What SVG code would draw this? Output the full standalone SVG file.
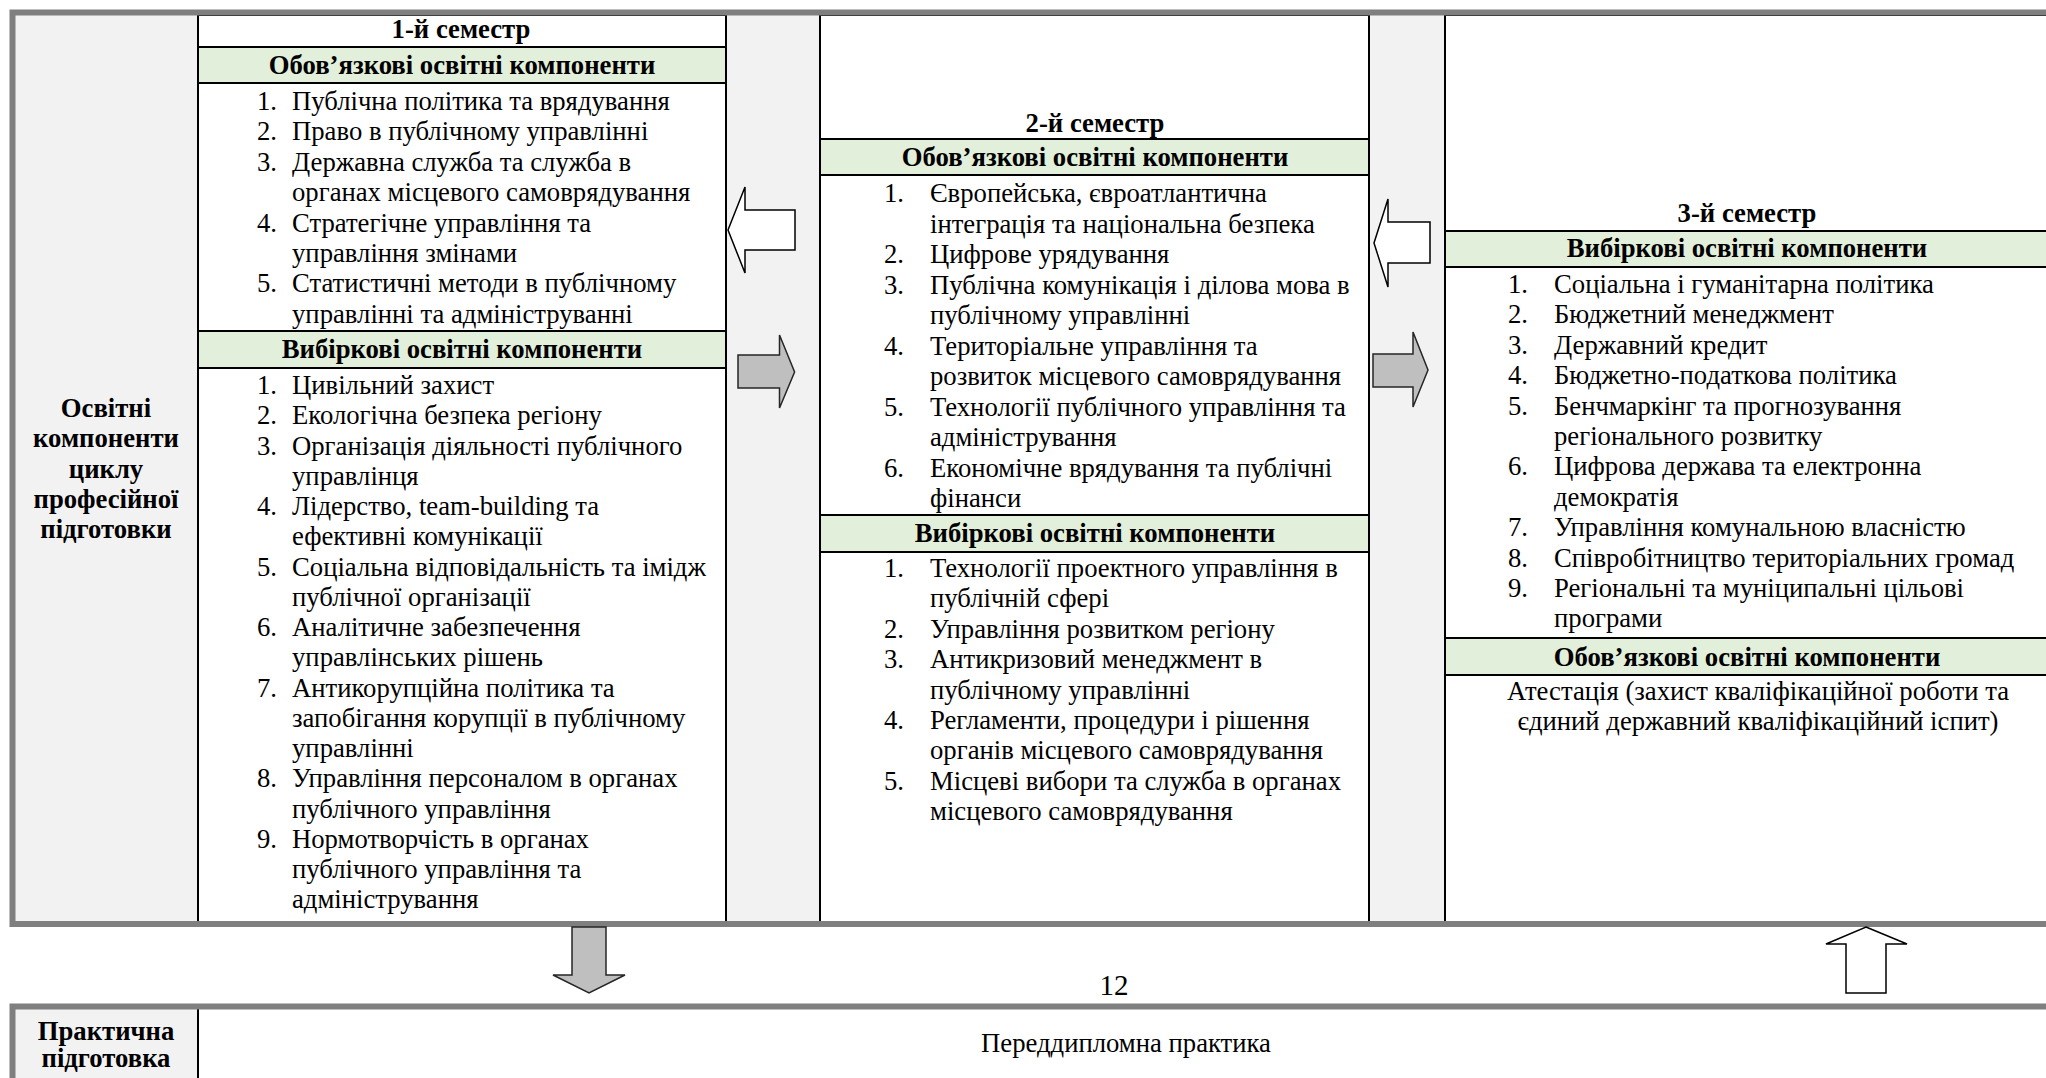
<svg xmlns="http://www.w3.org/2000/svg" width="2046" height="1078" viewBox="0 0 2046 1078">
<style>
.bg{fill:#ffffff}
.gap{fill:#f2f2f2}
.col{fill:#ffffff;stroke:#000000;stroke-width:2}
.green{fill:#e2efda;stroke:#000000;stroke-width:2}
.frame{fill:none;stroke:#7f7f7f;stroke-width:6}
.t{font-family:"Liberation Serif","Times New Roman",serif;font-size:26.7px;fill:#000000}
.b{font-family:"Liberation Serif","Times New Roman",serif;font-size:26.7px;font-weight:bold;fill:#000000}
.c{text-anchor:middle}
.n{text-anchor:end}
.warr{fill:#ffffff;stroke:#000000;stroke-width:1.5;stroke-linejoin:miter}
.garr{fill:#bfbfbf;stroke:#262626;stroke-width:1.5;stroke-linejoin:miter}
</style>
<rect class="bg" x="0" y="0" width="2046" height="1078"/>

<g id="label-column">
<rect class="gap" x="15" y="15" width="183" height="906"/>
<text class="b c" x="106" y="417">Освітні</text>
<text class="b c" x="106" y="447">компоненти</text>
<text class="b c" x="106" y="478">циклу</text>
<text class="b c" x="106" y="508">професійної</text>
<text class="b c" x="106" y="538">підготовки</text>
</g>

<g id="gap-1"><rect class="gap" x="726" y="15" width="94" height="906"/></g>
<g id="gap-2"><rect class="gap" x="1369" y="15" width="76" height="906"/></g>

<g id="semester-1">
<rect class="col" x="198" y="15" width="528" height="907"/>
<text class="b c" x="461" y="38">1-й семестр</text>
<rect class="green" x="198" y="47" width="528" height="36"/>
<text class="b c" x="462" y="74">Обов’язкові освітні компоненти</text>
<g class="t">
<text class="n" x="277" y="110">1.</text><text x="292" y="110">Публічна політика та врядування</text>
<text class="n" x="277" y="140.4">2.</text><text x="292" y="140.4">Право в публічному управлінні</text>
<text class="n" x="277" y="170.8">3.</text><text x="292" y="170.8">Державна служба та служба в</text>
<text x="292" y="201.2">органах місцевого самоврядування</text>
<text class="n" x="277" y="231.6">4.</text><text x="292" y="231.6">Стратегічне управління та</text>
<text x="292" y="262">управління змінами</text>
<text class="n" x="277" y="292.4">5.</text><text x="292" y="292.4">Статистичні методи в публічному</text>
<text x="292" y="322.8">управлінні та адмініструванні</text>
</g>
<rect class="green" x="198" y="331" width="528" height="37"/>
<text class="b c" x="462" y="358">Вибіркові освітні компоненти</text>
<g class="t">
<text class="n" x="277" y="394">1.</text><text x="292" y="394">Цивільний захист</text>
<text class="n" x="277" y="424.25">2.</text><text x="292" y="424.25">Екологічна безпека регіону</text>
<text class="n" x="277" y="454.5">3.</text><text x="292" y="454.5">Організація діяльності публічного</text>
<text x="292" y="484.75">управлінця</text>
<text class="n" x="277" y="515">4.</text><text x="292" y="515">Лідерство, team-building та</text>
<text x="292" y="545.25">ефективні комунікації</text>
<text class="n" x="277" y="575.5">5.</text><text x="292" y="575.5">Соціальна відповідальність та імідж</text>
<text x="292" y="605.75">публічної організації</text>
<text class="n" x="277" y="636">6.</text><text x="292" y="636">Аналітичне забезпечення</text>
<text x="292" y="666.25">управлінських рішень</text>
<text class="n" x="277" y="696.5">7.</text><text x="292" y="696.5">Антикорупційна політика та</text>
<text x="292" y="726.75">запобігання корупції в публічному</text>
<text x="292" y="757">управлінні</text>
<text class="n" x="277" y="787.25">8.</text><text x="292" y="787.25">Управління персоналом в органах</text>
<text x="292" y="817.5">публічного управління</text>
<text class="n" x="277" y="847.75">9.</text><text x="292" y="847.75">Нормотворчість в органах</text>
<text x="292" y="878">публічного управління та</text>
<text x="292" y="908.25">адміністрування</text>
</g>
</g>

<g id="semester-2">
<rect class="col" x="820" y="15" width="549" height="907"/>
<text class="b c" x="1095" y="132">2-й семестр</text>
<rect class="green" x="820" y="139" width="549" height="36"/>
<text class="b c" x="1095" y="166">Обов’язкові освітні компоненти</text>
<g class="t">
<text x="884" y="202">1.</text><text x="930" y="202">Європейська, євроатлантична</text>
<text x="930" y="232.5">інтеграція та національна безпека</text>
<text x="884" y="263">2.</text><text x="930" y="263">Цифрове урядування</text>
<text x="884" y="293.5">3.</text><text x="930" y="293.5">Публічна комунікація і ділова мова в</text>
<text x="930" y="324">публічному управлінні</text>
<text x="884" y="354.5">4.</text><text x="930" y="354.5">Територіальне управління та</text>
<text x="930" y="385">розвиток місцевого самоврядування</text>
<text x="884" y="415.5">5.</text><text x="930" y="415.5">Технології публічного управління та</text>
<text x="930" y="446">адміністрування</text>
<text x="884" y="476.5">6.</text><text x="930" y="476.5">Економічне врядування та публічні</text>
<text x="930" y="507">фінанси</text>
</g>
<rect class="green" x="820" y="515" width="549" height="37"/>
<text class="b c" x="1095" y="542">Вибіркові освітні компоненти</text>
<g class="t">
<text x="884" y="577">1.</text><text x="930" y="577">Технології проектного управління в</text>
<text x="930" y="607.4">публічній сфері</text>
<text x="884" y="637.8">2.</text><text x="930" y="637.8">Управління розвитком регіону</text>
<text x="884" y="668.2">3.</text><text x="930" y="668.2">Антикризовий менеджмент в</text>
<text x="930" y="698.6">публічному управлінні</text>
<text x="884" y="729">4.</text><text x="930" y="729">Регламенти, процедури і рішення</text>
<text x="930" y="759.4">органів місцевого самоврядування</text>
<text x="884" y="789.8">5.</text><text x="930" y="789.8">Місцеві вибори та служба в органах</text>
<text x="930" y="820.2">місцевого самоврядування</text>
</g>
</g>

<g id="semester-3">
<rect class="col" x="1445" y="15" width="640" height="907"/>
<text class="b c" x="1747" y="222">3-й семестр</text>
<rect class="green" x="1445" y="231" width="640" height="36"/>
<text class="b c" x="1747" y="257">Вибіркові освітні компоненти</text>
<g class="t">
<text x="1508" y="293">1.</text><text x="1554" y="293">Соціальна і гуманітарна політика</text>
<text x="1508" y="323.4">2.</text><text x="1554" y="323.4">Бюджетний менеджмент</text>
<text x="1508" y="353.8">3.</text><text x="1554" y="353.8">Державний кредит</text>
<text x="1508" y="384.2">4.</text><text x="1554" y="384.2">Бюджетно-податкова політика</text>
<text x="1508" y="414.6">5.</text><text x="1554" y="414.6">Бенчмаркінг та прогнозування</text>
<text x="1554" y="445">регіонального розвитку</text>
<text x="1508" y="475.4">6.</text><text x="1554" y="475.4">Цифрова держава та електронна</text>
<text x="1554" y="505.8">демократія</text>
<text x="1508" y="536.2">7.</text><text x="1554" y="536.2">Управління комунальною власністю</text>
<text x="1508" y="566.6">8.</text><text x="1554" y="566.6">Співробітництво територіальних громад</text>
<text x="1508" y="597">9.</text><text x="1554" y="597">Регіональні та муніципальні цільові</text>
<text x="1554" y="627.4">програми</text>
</g>
<rect class="green" x="1445" y="638" width="640" height="37"/>
<text class="b c" x="1747" y="666">Обов’язкові освітні компоненти</text>
<text class="t c" x="1758" y="700">Атестація (захист кваліфікаційної роботи та</text>
<text class="t c" x="1758" y="730">єдиний державний кваліфікаційний іспит)</text>
</g>

<g id="frame-top"><rect class="frame" x="12.5" y="12.5" width="2100" height="911.5"/></g>

<g id="practice">
<rect class="gap" x="15" y="1009" width="183" height="80"/>
<line x1="198" y1="1009" x2="198" y2="1090" stroke="#000" stroke-width="2"/>
<rect class="frame" x="12.5" y="1006.5" width="2100" height="200"/>
<text class="b c" x="106" y="1040">Практична</text>
<text class="b c" x="106" y="1067">підготовка</text>
<text class="t c" x="1126" y="1052">Переддипломна практика</text>
</g>

<g id="page-number"><text class="t c" x="1114" y="995" style="font-size:29px">12</text></g>

<g id="connectors">
<path class="warr" d="M728,230 L745,187 L745,210 L795,210 L795,250 L745,250 L745,273 Z"/>
<path class="garr" d="M738,355 H779.5 V335 L794.6,372 L779.5,408 V388 H738 Z"/>
<path class="warr" d="M1374,243 L1388,199 L1388,222 L1430,222 L1430,263 L1388,263 L1388,287 Z"/>
<path class="garr" d="M1373,354 H1413 V332 L1428,370 L1413,407 V387 H1373 Z"/>
<path class="garr" d="M572,927 H606 V975 H625 L589,993 L553,975 H572 Z"/>
<path class="warr" d="M1866,927 L1907,944 H1886 V993 H1846 V944 H1826 Z"/>
</g>
</svg>
